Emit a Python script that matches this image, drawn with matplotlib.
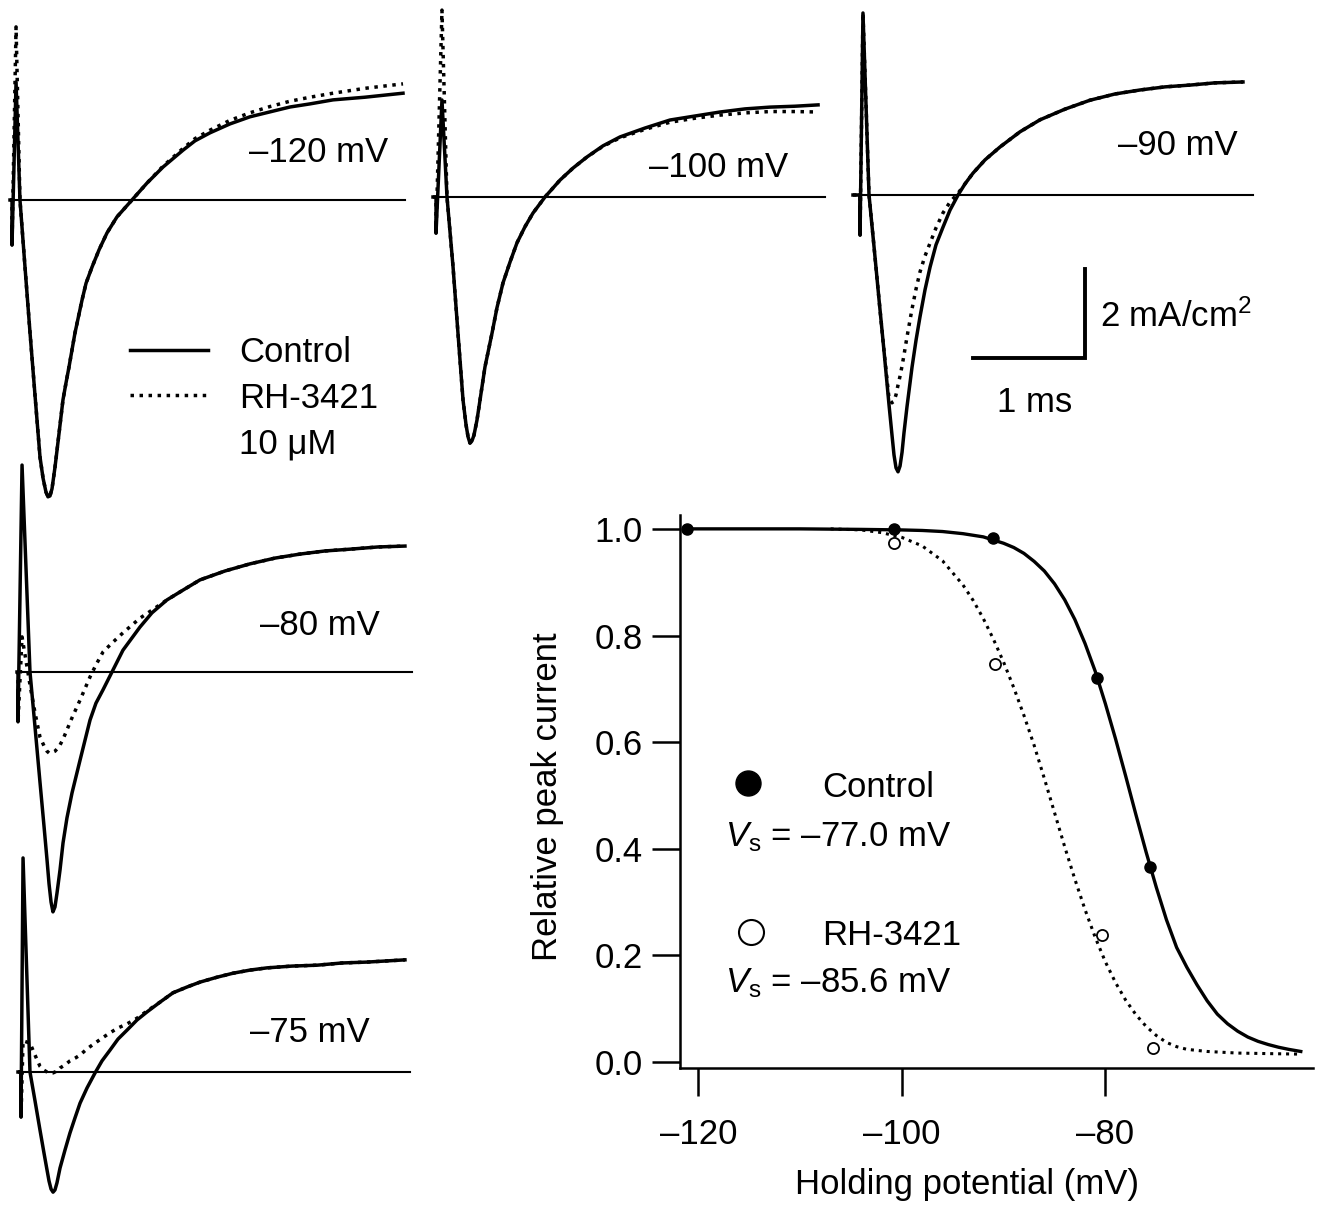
import matplotlib
matplotlib.use('Agg')
import matplotlib.pyplot as plt
from matplotlib.lines import Line2D

plt.rcParams['font.family'] = ['Liberation Sans', 'DejaVu Sans']
plt.rcParams['mathtext.fontset'] = 'custom'
plt.rcParams['mathtext.rm'] = 'Liberation Sans'
plt.rcParams['mathtext.it'] = 'Liberation Sans:italic'

# ---- current traces (time in ms, current in mA/cm2) ----
holding = [-120, -100, -90, -80, -75]

t_120 = [0, 0.018, 0.018, 0.054, 0.089, 0.134, 0.179, 0.223, 0.268, 0.295, 0.321, 0.339, 0.357,
         0.375, 0.402, 0.438, 0.473, 0.500, 0.527, 0.580, 0.643, 0.679, 0.732, 0.795, 0.866,
         0.955, 1.089, 1.223, 1.366, 1.545, 1.652, 1.786, 1.964, 2.143, 2.321, 2.500, 2.679,
         2.884, 3.170, 3.509]
ctrl_120 = [0, 0, -1.01, 2.65, 0, -1.51, -2.99, -4.38, -5.78, -6.25, -6.56, -6.67, -6.65,
            -6.49, -6.00, -5.24, -4.49, -4.11, -3.75, -2.99, -2.25, -1.87, -1.51, -1.12, -0.74,
            -0.38, 0, 0.38, 0.74, 1.12, 1.33, 1.51, 1.71, 1.87, 1.98, 2.09, 2.16,
            2.25, 2.31, 2.40]
rh_120 = [0, 0, -1.01, 3.89, 0, -1.51, -2.99, -4.38, -5.78, -6.25, -6.56, -6.67, -6.65,
          -6.49, -6.00, -5.24, -4.49, -4.11, -3.75, -2.99, -2.25, -1.87, -1.51, -1.12, -0.74,
          -0.38, 0, 0.38, 0.76, 1.16, 1.38, 1.57, 1.79, 1.96, 2.10, 2.22, 2.31,
          2.40, 2.51, 2.61]

t_100 = [0, 0.027, 0.027, 0.080, 0.125, 0.179, 0.223, 0.268, 0.295, 0.313, 0.330, 0.348, 0.366,
         0.393, 0.420, 0.464, 0.527, 0.571, 0.625, 0.688, 0.750, 0.821, 0.893, 1.000, 1.134,
         1.250, 1.375, 1.518, 1.670, 1.893, 2.116, 2.339, 2.563, 2.786, 3.009, 3.232, 3.438]
ctrl_100 = [0, 0, -0.81, 2.18, 0, -1.57, -3.06, -4.56, -5.12, -5.39, -5.53, -5.48, -5.35,
            -5.01, -4.56, -3.82, -3.06, -2.49, -1.93, -1.46, -1.03, -0.67, -0.36, 0, 0.38,
            0.65, 0.90, 1.15, 1.35, 1.55, 1.73, 1.82, 1.91, 1.98, 2.02, 2.04, 2.07]
rh_100 = [0, 0, -0.81, 4.20, 0, -1.57, -3.06, -4.56, -5.12, -5.39, -5.53, -5.48, -5.35,
          -5.01, -4.56, -3.82, -3.06, -2.49, -1.93, -1.46, -1.03, -0.67, -0.36, 0, 0.38,
          0.65, 0.90, 1.14, 1.33, 1.52, 1.68, 1.77, 1.84, 1.89, 1.92, 1.92, 1.91]

t_90 = [0, 0.063, 0.063, 0.089, 0.143, 0.188, 0.232, 0.277, 0.321, 0.348, 0.366, 0.384, 0.402,
        0.420, 0.438, 0.455, 0.482, 0.527, 0.563, 0.598, 0.643, 0.688, 0.741, 0.804, 0.866,
        0.938, 1.000, 1.071, 1.179, 1.313, 1.491, 1.670, 1.893, 2.116, 2.339, 2.563, 2.786,
        3.009, 3.232, 3.482]
ctrl_90 = [0, 0, -0.90, 4.09, 0, -1.17, -2.34, -3.51, -4.70, -5.39, -5.84, -6.13, -6.22,
           -6.09, -5.78, -5.35, -4.76, -3.87, -3.26, -2.74, -2.13, -1.62, -1.12, -0.72, -0.34,
           0, 0.25, 0.49, 0.79, 1.08, 1.42, 1.69, 1.93, 2.13, 2.27, 2.36, 2.43,
           2.47, 2.52, 2.54]
rh_90 = [0, 0, -0.90, 4.09, 0, -1.17, -2.34, -3.51, -4.56, -4.67, -4.63, -4.49, -4.27,
         -4.07, -3.84, -3.60, -3.19, -2.56, -2.11, -1.73, -1.37, -1.08, -0.74, -0.40, -0.16,
         0.04, 0.25, 0.49, 0.79, 1.08, 1.42, 1.69, 1.93, 2.13, 2.27, 2.36, 2.43,
         2.47, 2.52, 2.54]

t_80 = [0, 0.009, 0.009, 0.045, 0.116, 0.161, 0.205, 0.241, 0.268, 0.286, 0.304, 0.321, 0.339,
        0.357, 0.384, 0.411, 0.446, 0.491, 0.563, 0.652, 0.705, 0.768, 0.848, 0.946, 1.098,
        1.205, 1.339, 1.482, 1.634, 1.857, 2.080, 2.304, 2.527, 2.750, 2.973, 3.223, 3.464]
ctrl_80 = [0, 0, -1.12, 4.65, 0, -1.24, -2.47, -3.46, -4.22, -4.76, -5.17, -5.39, -5.28,
           -4.97, -4.45, -3.84, -3.28, -2.72, -1.98, -1.08, -0.70, -0.40, 0, 0.49, 1.01,
           1.33, 1.62, 1.84, 2.07, 2.27, 2.43, 2.56, 2.65, 2.72, 2.76, 2.81, 2.83]
rh_80 = [0, 0, -1.12, 0.79, -0.29, -0.92, -1.46, -1.66, -1.78, -1.82, -1.82, -1.80, -1.78,
         -1.73, -1.64, -1.51, -1.30, -1.03, -0.63, -0.11, 0.16, 0.45, 0.65, 0.88, 1.21,
         1.39, 1.62, 1.84, 2.07, 2.27, 2.43, 2.56, 2.65, 2.72, 2.76, 2.81, 2.83]

t_75 = [0, 0.027, 0.027, 0.045, 0.107, 0.152, 0.196, 0.232, 0.259, 0.277, 0.295, 0.313, 0.330,
        0.348, 0.375, 0.420, 0.464, 0.509, 0.554, 0.616, 0.688, 0.750, 0.821, 0.893, 0.973,
        1.063, 1.152, 1.268, 1.384, 1.509, 1.625, 1.777, 1.920, 2.071, 2.223, 2.446, 2.670,
        2.893, 3.116, 3.455]
ctrl_75 = [0, 0, -1.01, 4.81, 0, -0.65, -1.30, -1.82, -2.20, -2.45, -2.63, -2.70, -2.65,
           -2.49, -2.16, -1.75, -1.37, -1.03, -0.70, -0.36, -0.02, 0.25, 0.49, 0.74, 0.94,
           1.17, 1.35, 1.57, 1.78, 1.91, 2.02, 2.13, 2.22, 2.29, 2.34, 2.38, 2.40,
           2.45, 2.47, 2.52]
rh_75 = [0, 0, -1.01, 0.70, 0.65, 0.38, 0.13, 0.04, 0, -0.02, -0.02, -0.02, 0,
         0.02, 0.09, 0.16, 0.25, 0.31, 0.38, 0.52, 0.65, 0.76, 0.88, 0.99, 1.08,
         1.21, 1.37, 1.57, 1.78, 1.91, 2.02, 2.13, 2.22, 2.29, 2.34, 2.38, 2.40,
         2.45, 2.47, 2.52]

sweep_end = [3.53, 3.50, 3.57, 3.53, 3.50]   # ms, length of the zero line

# ---- steady-state inactivation ----
ctrl_v = [-121.1, -100.8, -91.0, -80.8, -75.6]
ctrl_y = [1.0, 1.0, 0.983, 0.721, 0.366]
rh_v = [-100.8, -90.8, -80.3, -75.3]
rh_y = [0.974, 0.747, 0.239, 0.026]

ctrl_fit_v = [-121.1, -110, -104, -100, -98, -96, -94, -92, -90, -89, -88, -87, -86, -85, -84,
              -83, -82, -81, -80, -79, -78, -77, -76, -75, -74, -73, -72, -71, -70, -69,
              -68, -67, -66, -65, -64, -63, -62, -60.8]
ctrl_fit_y = [1.0, 1.0, 0.999, 0.998, 0.997, 0.995, 0.991, 0.985, 0.973, 0.965, 0.954, 0.939,
              0.921, 0.897, 0.867, 0.830, 0.785, 0.733, 0.672, 0.606, 0.536, 0.464, 0.394,
              0.328, 0.267, 0.215, 0.178, 0.145, 0.115, 0.090, 0.072, 0.058, 0.047, 0.039,
              0.033, 0.028, 0.024, 0.020]
rh_fit_v = [-107, -104, -102, -100, -98, -96, -94, -93, -92, -91, -90, -89, -88, -87, -86,
            -85, -84, -83, -82, -81, -80, -79, -78, -77, -76, -75, -74, -73, -72, -70,
            -67, -64, -60.8]
rh_fit_y = [1.0, 0.998, 0.993, 0.984, 0.968, 0.940, 0.895, 0.866, 0.832, 0.793, 0.750, 0.702,
            0.650, 0.594, 0.532, 0.468, 0.404, 0.343, 0.286, 0.234, 0.188, 0.149, 0.116,
            0.089, 0.067, 0.050, 0.037, 0.029, 0.024, 0.020, 0.017, 0.016, 0.015]
vs_ctrl = -77.0
vs_rh = -85.6

W, H = 1320, 1207
fig = plt.figure(figsize=(W / 100, H / 100), dpi=100)

PX_MS = 112.0   # pixels per ms
PX_I = 44.5     # pixels per mA/cm2
DOT = (0, (1, 1.6))
FS = 25
LW = 2.5


def trace_axes(x0, yb):
    w, up, down = 405, 200, 330
    ax = fig.add_axes([x0 / W, 1 - (yb + down) / H, w / W, (up + down) / H])
    ax.set_xlim(0, w / PX_MS)
    ax.set_ylim(-down / PX_I, up / PX_I)
    ax.axis('off')
    return ax


traces = [(t_120, ctrl_120, rh_120), (t_100, ctrl_100, rh_100), (t_90, ctrl_90, rh_90),
          (t_80, ctrl_80, rh_80), (t_75, ctrl_75, rh_75)]
origins = [(10, 200), (433, 197), (853, 195), (17, 672), (18, 1072)]
label_pos = [(388, 162), (788, 177), (1238, 155), (380, 635), (370, 1042)]

trace_ax = []
for (t, c, r), (x0, yb), (lx, ly), hv, end in zip(traces, origins, label_pos, holding, sweep_end):
    ax = trace_axes(x0, yb)
    ax.plot([0, end], [0, 0], color='k', lw=1.5, clip_on=False)
    ax.plot(t, r, color='k', lw=LW, ls=DOT, clip_on=False)
    ax.plot(t, c, color='k', lw=LW, clip_on=False, solid_joinstyle='round')
    fig.text(lx / W, 1 - ly / H, '\u2013%d mV' % abs(hv), ha='right', va='baseline', fontsize=FS)
    trace_ax.append(ax)

# scale bar in the -90 mV panel
ax3 = trace_ax[2]
ax3.plot([1.07, 2.07, 2.07], [-3.66, -3.66, -1.66], color='k', lw=2.8,
         solid_joinstyle='miter', clip_on=False)
fig.text(1100 / W, 1 - 327 / H, '2 mA/cm$^2$', ha='left', va='baseline', fontsize=FS)
fig.text(1035 / W, 1 - 412 / H, '1 ms', ha='center', va='baseline', fontsize=FS)

handles = [Line2D([], [], color='k', lw=LW),
           Line2D([], [], color='k', lw=LW, ls=DOT),
           Line2D([], [], color='none')]
fig.legend(handles, ['Control', 'RH-3421', '10 \u03bcM'], loc='upper left',
           bbox_to_anchor=(130 / W, 1 - 336 / H), frameon=False, fontsize=FS,
           handlelength=2.25, handletextpad=0.9, labelspacing=0.36,
           borderpad=0, borderaxespad=0)

# ---- right panel ----
ax = fig.add_axes([680 / W, 1 - 1068 / H, 633 / W, 553 / H])
ax.plot(rh_fit_v, rh_fit_y, color='k', lw=2.2, ls=DOT)
ax.plot(ctrl_fit_v, ctrl_fit_y, color='k', lw=2.4)
ax.plot(ctrl_v, ctrl_y, 'o', ms=8, mfc='k', mec='k')
ax.plot(rh_v, rh_y, 'o', ms=8, mfc='white', mec='k', mew=1.3)
ax.set_xlim(-121.8, -59.6)
ax.set_ylim(-0.011, 1.026)
for s in ['top', 'right']:
    ax.spines[s].set_visible(False)
for s in ['left', 'bottom']:
    ax.spines[s].set_linewidth(1.8)
ax.set_xticks([-120, -100, -80])
ax.set_xticklabels(['\u2013120', '\u2013100', '\u201380'])
ax.set_yticks([0, 0.2, 0.4, 0.6, 0.8, 1.0])
ax.set_yticklabels(['0.0', '0.2', '0.4', '0.6', '0.8', '1.0'])
ax.tick_params(direction='out', length=20, width=1.8, labelsize=FS)
ax.tick_params(axis='x', pad=16)
ax.tick_params(axis='y', pad=7)
ax.set_xlabel('Holding potential (mV)', fontsize=FS)
ax.xaxis.set_label_coords((967 - 680) / 633, (1068 - 1168) / 553)
ax.set_ylabel('Relative peak current', fontsize=FS)
ax.yaxis.set_label_coords((564 - 680) / 633, (1068 - 797) / 553)

ax.plot([0.107], [0.515], 'o', ms=18, mfc='k', mec='k', transform=ax.transAxes, clip_on=False)
ax.plot([0.112], [0.246], 'o', ms=18, mfc='white', mec='k', mew=1.5,
        transform=ax.transAxes, clip_on=False)
ax.text(0.224, 0.490, 'Control', transform=ax.transAxes, fontsize=FS, va='baseline')
ax.text(0.224, 0.222, 'RH-3421', transform=ax.transAxes, fontsize=FS, va='baseline')
ax.text(0.071, 0.400, '$V_\\mathrm{s}$ = \u2013%.1f mV' % abs(vs_ctrl), transform=ax.transAxes,
        fontsize=FS, va='baseline')
ax.text(0.071, 0.137, '$V_\\mathrm{s}$ = \u2013%.1f mV' % abs(vs_rh), transform=ax.transAxes,
        fontsize=FS, va='baseline')

fig.savefig('out.png', dpi=100)
